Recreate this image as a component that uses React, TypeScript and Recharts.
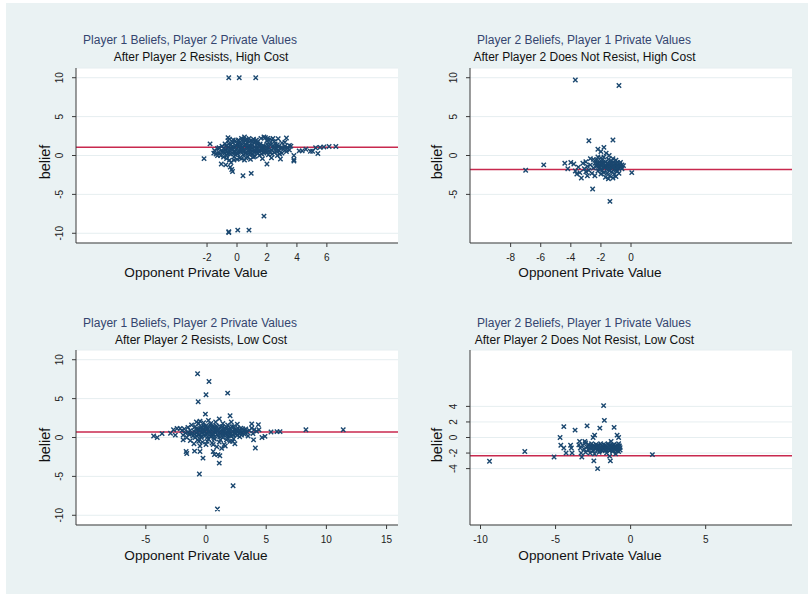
import React from 'react';
import { ScatterChart, Scatter, XAxis, YAxis, CartesianGrid, ReferenceLine } from 'recharts';

// values: [opponent private value, belief]
const highResist: [number, number][] = [
  [-0.55, 10], [0.15, 10], [1.25, 10], [1.8, -7.8], [-0.55, -9.8], [-0.55, -9.9], [0.05, -9.6], [0.8, -9.6],
  [0.4, -2.6], [0.95, -2.3], [-2.2, -0.4], [-1.8, 1.5], [-1.05, -1.1], [-0.75, -1.2], [-0.45, -1.5], [-0.35, -1.8],
  [-0.3, -2.05], [2.0, -1.1], [2.9, -0.45], [3.3, 2.25], [3.8, 0.0], [3.8, -0.55], [3.8, -0.7], [4.15, 0.6],
  [4.35, 0.6], [4.9, 0.55], [5.05, 0.55], [5.4, 0.25], [5.25, 1.0], [5.55, 1.05], [5.8, 1.1], [6.15, 1.15],
  [6.6, 1.15], [2.75, 2.15], [3.2, 1.7], [2.4, 2.2], [3.5, 1.3], [4.6, 0.8], [-1.5, 0.65], [-1.55, 0.3], [-1.3, 0.0],
  [-1.4, 0.2], [-1.3, 0.9], [-1.2, 0.4], [-1.1, 0.0], [-1.0, 1.2], [-1.0, 0.5], [-0.9, -0.2], [-0.9, 0.9],
  [-0.8, 0.3], [-0.8, 1.5], [-0.7, 0.7], [-0.7, -0.4], [-0.6, 2.3], [-0.6, 1.9], [-0.6, 1.1], [-0.6, 0.2],
  [-0.5, 2.1], [-0.5, 0.6], [-0.5, -0.6], [-0.4, 1.4], [-0.4, 0.9], [-0.4, -0.9], [-0.3, 0.3], [-0.3, 1.7],
  [-0.2, 1.0], [-0.2, -0.2], [-0.2, 0.6], [-0.1, 1.9], [-0.1, 1.3], [-0.1, 0.1], [0.0, 0.8], [0.0, -0.5],
  [0.0, 1.5], [0.1, 2.0], [0.1, 1.1], [0.1, 0.4], [0.2, 0.9], [0.2, -0.3], [0.2, 1.7], [0.3, 0.6], [0.3, 1.3],
  [0.3, 2.2], [0.4, 0.1], [0.4, 1.0], [0.4, 1.8], [0.5, 0.7], [0.5, 2.4], [0.5, -0.6], [0.6, 1.4], [0.6, 0.3],
  [0.6, 2.0], [0.7, 0.9], [0.7, 1.6], [0.7, -0.2], [0.8, 1.2], [0.8, 0.5], [0.8, 2.2], [0.9, 0.8], [0.9, 1.9],
  [0.9, -0.5], [1.0, 1.4], [1.0, 0.2], [1.0, 1.0], [1.1, 2.1], [1.1, 0.6], [1.2, 1.7], [1.2, -0.1], [1.2, 1.1],
  [1.3, 0.4], [1.3, 2.0], [1.4, 0.9], [1.4, 1.5], [1.5, 0.0], [1.5, 1.2], [1.6, 2.2], [1.6, 0.6], [1.7, 1.0],
  [1.7, -0.4], [1.8, 2.4], [1.8, 0.3], [1.9, 0.8], [1.9, 2.3], [2.0, 0.5], [2.0, 1.9], [2.1, 1.0], [2.1, 0.1],
  [2.2, 1.4], [2.2, 2.1], [2.3, 0.7], [2.3, -0.3], [2.4, 1.2], [2.5, 0.4], [2.5, 1.8], [2.6, 0.9], [2.7, 0.0],
  [2.7, 1.4], [2.8, 0.6], [2.9, 1.0], [3.0, 0.3], [3.0, 1.6], [3.1, 0.8], [3.2, 1.2], [3.3, 0.5], [3.4, 1.0],
  [3.5, 0.7], [3.6, 1.2],
  [-0.75, 1.2], [-0.65, 0.5], [-0.55, 1.5], [-0.45, 0.2], [-0.35, 1.1], [-0.25, 2.0], [-0.15, 0.4], [-0.05, 1.2],
  [0.05, 0.2], [0.15, 1.6], [0.25, 0.5], [0.35, 1.0], [0.45, 2.1], [0.55, 0.3], [0.65, 1.1], [0.75, 1.9],
  [0.85, 0.1], [0.95, 1.2], [1.05, 1.8], [1.15, 0.4], [1.25, 0.9], [1.35, 1.7], [1.45, 0.6], [1.55, 1.5],
  [1.65, 0.2], [1.75, 1.3], [1.85, 0.5], [1.95, 1.1], [2.05, 2.2], [2.15, 0.6], [2.25, 1.7], [2.35, 0.2],
  [2.45, 0.9], [2.55, 1.5], [2.65, 0.5], [2.75, 1.1], [2.85, 0.2], [-0.7, 0.0], [-0.2, -0.6], [0.3, -0.4],
  [0.6, -0.3], [1.1, -0.2], [1.4, 0.3], [0.2, 1.3], [0.5, 1.4], [0.9, 0.4], [1.3, 1.3], [1.7, 0.7], [2.0, 1.5],
  [-0.3, 0.8], [0.0, 0.3], [0.4, 0.6], [0.8, 0.8], [1.2, 0.7], [1.6, 1.0], [2.2, 0.4], [2.6, 1.2], [3.0, 1.0],
  [3.3, 0.8], [-0.9, 0.5], [-1.2, 1.0],
];

const highNoResist: [number, number][] = [
  [-3.7, 9.7], [-0.8, 9.0], [-2.8, 1.9], [-1.2, 2.0], [-7.0, -1.9], [-5.8, -1.2], [-4.4, -1.0], [-4.2, -1.7],
  [-4.0, -0.9], [-2.55, -4.3], [-1.4, -5.9], [0.05, -2.2], [-2.2, 0.8], [-1.8, 1.05], [-2.0, 0.5], [-1.65, 0.3],
  [-2.2, -0.2], [-1.45, 0.0], [-3.8, -1.1], [-3.7, -2.0], [-3.6, -2.4], [-3.5, -1.5], [-3.4, -2.2], [-3.3, -2.9],
  [-3.2, -1.0], [-3.1, -1.7], [-3.0, -2.1], [-3.0, -0.8], [-2.9, -1.4], [-2.9, -2.6], [-2.8, -1.9], [-2.7, -1.2],
  [-2.7, -0.4], [-2.6, -2.3], [-2.5, -1.6], [-2.5, -0.5], [-2.4, -2.6], [-2.4, -1.0], [-2.3, -1.4], [-2.3, -0.6],
  [-2.2, -2.0], [-2.2, -1.1], [-2.1, -1.6], [-2.1, -0.8], [-2.0, -2.4], [-2.0, -1.3], [-2.0, -0.3], [-1.9, -1.9],
  [-1.9, -1.0], [-1.9, -0.6], [-1.8, -1.5], [-1.8, -2.2], [-1.8, -0.2], [-1.7, -1.2], [-1.7, -2.8], [-1.7, -0.8],
  [-1.6, -1.7], [-1.6, -1.0], [-1.6, -2.3], [-1.5, -1.4], [-1.5, -0.5], [-1.5, -3.0], [-1.4, -1.9], [-1.4, -1.1],
  [-1.4, -2.6], [-1.3, -1.5], [-1.3, -0.7], [-1.3, -2.1], [-1.2, -1.2], [-1.2, -2.9], [-1.2, -0.4], [-1.1, -1.8],
  [-1.1, -1.0], [-1.1, -2.4], [-1.0, -1.4], [-1.0, -0.6], [-1.0, -2.7], [-0.9, -1.2], [-0.9, -2.0], [-0.9, -0.9],
  [-0.8, -1.6], [-0.8, -1.1], [-0.8, -2.3], [-0.7, -1.4], [-0.7, -0.9], [-0.6, -1.2], [-0.6, -1.7], [-0.5, -1.3],
  [-2.25, -1.0], [-2.15, -1.4], [-2.05, -1.8], [-1.95, -1.3], [-1.85, -1.0], [-1.75, -1.5], [-1.65, -1.3],
  [-1.55, -1.0], [-1.45, -1.6], [-1.35, -1.2], [-1.25, -1.6], [-1.15, -1.3], [-1.05, -1.0], [-0.95, -1.6],
  [-0.85, -1.3], [-0.75, -1.1], [-0.65, -1.5], [-1.6, -1.45], [-1.3, -1.0], [-1.0, -1.9], [-1.8, -1.1],
  [-1.2, -1.5], [-1.5, -1.8], [-0.9, -1.5], [-2.0, -1.0],
];

const lowResist: [number, number][] = [
  [-0.7, 8.2], [0.25, 7.2], [0.0, 5.5], [1.8, 5.7], [-0.65, 4.6], [-0.05, 3.0], [2.0, 2.8], [-0.55, -4.7],
  [2.25, -6.2], [0.95, -9.2], [1.1, -3.3], [-0.25, -2.65], [-1.65, -1.8], [-1.6, -2.05], [-0.5, -1.8], [-0.95, -1.75],
  [11.4, 1.0], [8.3, 1.0], [6.15, 0.75], [5.9, 0.75], [5.4, 0.7], [4.9, 0.15], [4.65, 0.0], [4.1, -1.35],
  [-4.35, 0.2], [-4.05, 0.0], [-3.65, 0.5], [-2.95, 0.55], [-2.7, 1.0], [-2.4, 1.15], [-2.15, 1.15], [-2.55, 0.3],
  [-1.9, -0.3], [1.0, -2.2], [1.15, -2.35], [0.6, -1.8], [0.7, -2.2], [2.4, -0.8], [1.6, -1.1], [3.95, -0.3],
  [3.8, 1.75], [4.35, 1.65], [-2.0, 0.9], [-1.9, 0.3], [-1.8, 1.1], [-1.7, 0.6], [-1.6, 0.0], [-1.5, 1.3],
  [-1.4, 0.4], [-1.3, -0.4], [-1.3, 0.9], [-1.2, 1.6], [-1.1, 0.2], [-1.0, 0.8], [-1.0, -0.8], [-0.9, 1.4],
  [-0.9, 0.0], [-0.8, 2.0], [-0.8, 0.6], [-0.7, -0.3], [-0.7, 1.1], [-0.6, 0.3], [-0.6, 1.8], [-0.5, -1.1],
  [-0.5, 0.9], [-0.5, 2.1], [-0.4, 0.0], [-0.4, 1.4], [-0.3, 0.6], [-0.3, -0.6], [-0.2, 1.1], [-0.2, 1.9],
  [-0.1, 0.2], [-0.1, 0.8], [0.0, -0.9], [0.0, 1.5], [0.1, 0.5], [0.1, 1.0], [0.2, 2.2], [0.2, -0.2], [0.3, 0.7],
  [0.3, 1.3], [0.4, 0.1], [0.4, 1.8], [0.5, -0.7], [0.5, 0.9], [0.6, 0.4], [0.6, 1.5], [0.7, -0.2], [0.7, 1.1],
  [0.8, 2.0], [0.8, 0.6], [0.9, -1.2], [0.9, 1.3], [1.0, 0.2], [1.0, 0.9], [1.1, 2.4], [1.1, -0.6], [1.2, 1.4],
  [1.2, 0.5], [1.3, -1.4], [1.3, 1.0], [1.4, 0.0], [1.4, 1.8], [1.5, 0.7], [1.5, -0.9], [1.6, 1.2], [1.7, 0.3],
  [1.7, -0.3], [1.8, 0.9], [1.8, 1.6], [1.9, 0.5], [2.0, -0.5], [2.0, 1.2], [2.1, 2.0], [2.1, 0.2], [2.2, 0.8],
  [2.3, 1.4], [2.3, -0.2], [2.4, 0.6], [2.5, 1.0], [2.6, 0.3], [2.6, 1.7], [2.7, 0.8], [2.8, 0.1], [2.9, 1.2],
  [3.0, 0.6], [3.1, 0.9], [3.2, 0.4], [3.3, 1.1], [3.4, 0.7], [3.5, 0.2], [3.6, 0.9], [3.8, 1.2], [3.9, 0.5],
  [4.0, 1.0], [4.2, 0.8], [4.4, 1.0],
  [-0.95, 0.4], [-0.85, 1.1], [-0.75, 0.2], [-0.65, 0.9], [-0.55, 0.4], [-0.45, 1.2], [-0.35, 0.2], [-0.25, 0.9],
  [-0.15, 1.5], [-0.05, 0.5], [0.05, 1.2], [0.15, 0.1], [0.25, 0.9], [0.35, 1.6], [0.45, 0.4], [0.55, 1.2],
  [0.65, 0.0], [0.75, 0.8], [0.85, 1.5], [0.95, 0.4], [1.05, 1.1], [1.15, 0.1], [1.25, 0.8], [1.35, 1.4],
  [1.45, 0.3], [1.55, 1.0], [1.65, 0.6], [1.75, 1.3], [1.85, 0.2], [1.95, 0.8], [2.05, 0.5], [2.15, 1.4],
  [2.25, 0.3], [2.35, 1.0], [2.45, 0.4], [2.55, 0.8], [2.65, 1.2], [2.75, 0.5], [2.85, 0.9], [2.95, 0.3],
  [3.05, 1.1], [3.25, 0.7], [-0.6, -0.5], [0.1, -0.5], [0.6, -0.9], [1.2, -0.3], [1.8, -0.1], [2.2, -0.5],
  [-1.5, 0.7], [-1.2, 0.5], [-0.3, 1.0], [0.2, 0.7], [0.5, 0.5], [0.9, 0.8], [1.4, 0.6], [1.9, 1.0], [2.4, 0.7],
];

const lowNoResist: [number, number][] = [
  [-9.4, -3.05], [-7.05, -1.8], [-5.1, -2.5], [1.45, -2.2], [-1.8, 4.1], [-1.75, 2.2], [-2.9, 1.5], [-4.45, 1.4],
  [-3.7, 0.95], [-4.7, 0.0], [-1.1, 1.3], [-2.05, 1.2], [-2.4, 0.3], [-2.5, 0.0], [-0.9, 0.3], [-0.8, 0.0],
  [-2.45, -3.0], [-2.2, -4.0], [-1.35, -3.0], [-4.65, -1.0], [-4.45, -1.35], [-4.3, -2.0], [-4.0, -1.0],
  [-3.95, -1.35], [-3.9, -2.0], [-3.45, -0.95], [-3.35, -1.35], [-3.3, -2.0], [-3.25, -2.5], [-3.4, -0.5],
  [-3.05, -0.5], [-1.4, -2.4], [-3.2, -1.0], [-3.1, -1.5], [-3.0, -0.7], [-3.0, -1.9], [-2.9, -1.2], [-2.8, -1.6],
  [-2.8, -0.9], [-2.7, -2.0], [-2.6, -1.3], [-2.6, -0.8], [-2.5, -1.7], [-2.5, -1.0], [-2.4, -1.4], [-2.4, -2.1],
  [-2.3, -0.9], [-2.3, -1.2], [-2.2, -1.6], [-2.2, -1.0], [-2.1, -1.3], [-2.1, -1.9], [-2.0, -0.8], [-2.0, -1.5],
  [-1.9, -1.1], [-1.9, -1.7], [-1.8, -1.3], [-1.8, -0.9], [-1.7, -1.6], [-1.7, -1.0], [-1.6, -2.0], [-1.6, -1.2],
  [-1.5, -1.4], [-1.5, -0.8], [-1.4, -1.7], [-1.4, -1.1], [-1.3, -0.5], [-1.3, -1.3], [-1.2, -1.0], [-1.2, -1.8],
  [-1.1, -1.4], [-1.1, -0.9], [-1.0, -1.2], [-1.0, -1.6], [-1.0, -2.1], [-0.9, -1.0], [-0.9, -1.4], [-0.8, -1.8],
  [-0.8, -1.1], [-0.8, -0.8], [-0.7, -1.3], [-0.7, -1.6],
  [-2.75, -1.3], [-2.65, -1.1], [-2.55, -1.4], [-2.45, -1.2], [-2.35, -1.5], [-2.25, -1.3], [-2.15, -1.1],
  [-2.05, -1.7], [-1.95, -1.4], [-1.85, -1.2], [-1.75, -1.4], [-1.65, -1.5], [-1.55, -1.2], [-1.45, -1.5],
  [-1.35, -1.0], [-1.25, -1.4], [-1.15, -1.2], [-1.05, -1.4], [-0.95, -1.2], [-0.85, -1.5], [-0.75, -1.1],
  [-1.6, -1.6], [-1.2, -1.6], [-2.0, -1.2], [-0.9, -1.7],
];

const meanBelief = [1.05, -1.8, 0.7, -2.35];

const xTicks = [[-2, 0, 2, 4, 6], [-8, -6, -4, -2, 0], [-5, 0, 5, 10, 15], [-10, -5, 0, 5]];
const yTicks = [[-10, -5, 0, 5, 10], [-5, 0, 5, 10], [-10, -5, 0, 5, 10], [-4, -2, 0, 2, 4]];
const xDomains: [number, number][] = [[-10.75, 10.75], [-10.7, 10.7], [-10.8, 15.95], [-10.7, 10.75]];

const titles = [
  'Player 1 Beliefs, Player 2 Private Values',
  'Player 2 Beliefs, Player 1 Private Values',
  'Player 1 Beliefs, Player 2 Private Values',
  'Player 2 Beliefs, Player 1 Private Values',
];
const subtitles = [
  'After Player 2 Resists, High Cost',
  'After Player 2 Does Not Resist, High Cost',
  'After Player 2 Resists, Low Cost',
  'After Player 2 Does Not Resist, Low Cost',
];

const FONT = '"Liberation Sans", Arial, Helvetica, sans-serif';
const NAVY = '#1a476f';
const AXIS = '#3a3a3a';

const Cross = (props: any) => {
  const { cx, cy } = props;
  if (cx == null || cy == null) return null;
  const r = 2.2;
  return (
    <path
      d={`M${cx - r},${cy - r}L${cx + r},${cy + r}M${cx - r},${cy + r}L${cx + r},${cy - r}`}
      stroke={NAVY}
      strokeWidth={1.4}
      fill="none"
    />
  );
};

const YTick = (props: any) => {
  const { x, y, payload } = props;
  return (
    <text
      x={x}
      y={y}
      transform={`rotate(-90 ${x} ${y})`}
      textAnchor="middle"
      fontSize={10}
      fontFamily={FONT}
      fill="#222"
    >
      {payload.value}
    </text>
  );
};

// panel placement: [left, top, yAxisWidth]
const panelPos = [
  [0, 0, 76],
  [404, 0, 66],
  [0, 282, 76],
  [404, 282, 66],
];

const datasets = [highResist, highNoResist, lowResist, lowNoResist];

function Panel({ i }: { i: number }) {
  const [left, top, yw] = panelPos[i];
  const rightMargin = 404 - yw - 322;
  const data = datasets[i].map(([x, y]) => ({ x, y }));
  return (
    <div style={{ position: 'absolute', left, top, width: 404, height: 297 }}>
      <ScatterChart width={404} height={297} margin={{ top: 68, right: rightMargin, left: 0, bottom: 0 }}>
        <CartesianGrid vertical={false} stroke="#e6eef0" fill="#ffffff" />
        <XAxis
          type="number"
          dataKey="x"
          domain={xDomains[i]}
          ticks={xTicks[i]}
          interval={0}
          allowDataOverflow
          height={54}
          tickSize={4}
          tickMargin={7}
          axisLine={{ stroke: AXIS }}
          tickLine={{ stroke: AXIS }}
          tick={{ fontSize: 10, fill: '#222', fontFamily: FONT }}
        />
        <YAxis
          type="number"
          dataKey="y"
          domain={[-11.25, 11.25]}
          ticks={yTicks[i]}
          interval={0}
          allowDataOverflow
          width={yw}
          tickSize={4}
          tickMargin={9}
          axisLine={{ stroke: AXIS }}
          tickLine={{ stroke: AXIS }}
          tick={<YTick />}
        />
        <ReferenceLine y={meanBelief[i]} stroke="#c8294e" strokeWidth={1.5} ifOverflow="hidden" />
        <Scatter data={data} shape={<Cross />} isAnimationActive={false} />
      </ScatterChart>
    </div>
  );
}

export default function App() {
  return (
    <div style={{ position: 'absolute', left: 0, top: 0, width: 808, height: 594, background: '#ffffff' }}>
      <div style={{ position: 'absolute', left: 6, top: 3, width: 802, height: 591, background: '#eaf2f3' }} />
      {[0, 1, 2, 3].map((i) => (
        <Panel key={i} i={i} />
      ))}
      <svg width={808} height={594} style={{ position: 'absolute', left: 0, top: 0, pointerEvents: 'none' }}>
        {[0, 1, 2, 3].map((i) => {
          const right = i % 2 === 1;
          const dy = i >= 2 ? 283 : 0;
          const cx1 = right ? 584 : 190;
          const cx2 = right ? 584.5 : 201;
          const labelX = right ? 590 : 196;
          const beliefX = right ? 442 : 50;
          return (
            <g key={i} fontFamily={FONT}>
              <text x={cx1} y={44 + dy} textAnchor="middle" fontSize={12} fill="#34456f">
                {titles[i]}
              </text>
              <text x={cx2} y={61 + dy} textAnchor="middle" fontSize={12} fill="#111">
                {subtitles[i]}
              </text>
              <text x={labelX} y={276.5 + dy} textAnchor="middle" fontSize={13.6} fill="#111">
                Opponent Private Value
              </text>
              <text
                x={beliefX}
                y={162 + dy}
                transform={`rotate(-90 ${beliefX} ${162 + dy})`}
                textAnchor="middle"
                fontSize={14.5}
                fill="#111"
              >
                belief
              </text>
            </g>
          );
        })}
      </svg>
    </div>
  );
}
